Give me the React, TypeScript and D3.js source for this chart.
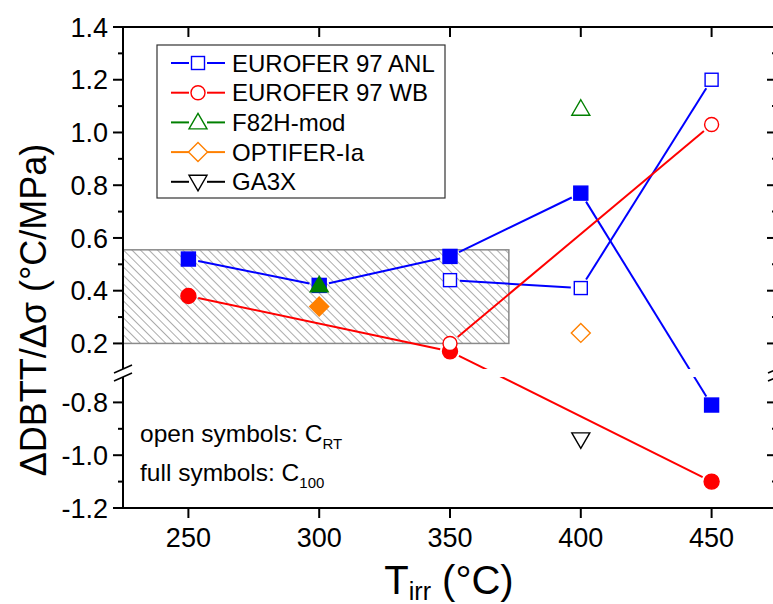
import React from "react";
import * as d3 from "d3";

// ---- data ----
const xTicks = [250, 300, 350, 400, 450];
const upperMajor = [0.2, 0.4, 0.6, 0.8, 1.0, 1.2, 1.4];
const upperMinor = [0.3, 0.5, 0.7, 0.9, 1.1, 1.3];
const lowerMajor = [-1.2, -1.0, -0.8];
const lowerMinor = [-1.1, -0.9];

const anlFull: [number, number][] = [[250, 0.52], [300, 0.42], [350, 0.53], [400, 0.77], [450, -0.81]];
const anlOpen: [number, number][] = [[350, 0.44], [400, 0.41], [450, 1.2]];
const wbFull: [number, number][] = [[250, 0.38], [350, 0.17], [450, -1.1]];
const wbOpen: [number, number][] = [[350, 0.2], [450, 1.03]];
const f82Full: [number, number][] = [[300, 0.42]];
const f82Open: [number, number][] = [[400, 1.09]];
const optFull: [number, number][] = [[300, 0.34]];
const optOpen: [number, number][] = [[400, 0.24]];
const ga3Open: [number, number][] = [[400, -0.94]];
const hatchBand = { x0: 225, x1: 372.5, y0: 0.2, y1: 0.555 };

const legendNames = ["EUROFER 97 ANL", "EUROFER 97 WB", "F82H-mod", "OPTIFER-Ia", "GA3X"];
const legendColors = ["#0000ff", "#ff0000", "#008000", "#ff8000", "#000000"];
const legendShapes = ["square", "circle", "triangle", "diamond", "down"];

const W = 773, H = 604;
const FONT = "'Liberation Sans', Arial, Helvetica, sans-serif";

const x = d3.scaleLinear().domain([225, 475]).range([123, 777]);
const yUp = d3.scaleLinear().domain([0.1, 1.4]).range([369.8, 27]);
const yLo = d3.scaleLinear().domain([-1.2, -0.7]).range([508, 376]);
const y = (v: number) => (v >= 0.1 ? yUp(v) : yLo(v));
const fmt = (v: number) => d3.format(".1f")(v).replace("\u2212", "-");

function Marker({ shape, cx, cy, color, filled }: { shape: string; cx: number; cy: number; color: string; filled: boolean }) {
  const fill = filled ? color : "#ffffff";
  const sw = 1.4;
  if (shape === "square") {
    const s = filled ? 14 : 13;
    return <rect x={cx - s / 2} y={cy - s / 2} width={s} height={s} fill={fill} stroke={color} strokeWidth={sw} />;
  }
  if (shape === "circle") {
    return <circle cx={cx} cy={cy} r={filled ? 7.5 : 7} fill={fill} stroke={color} strokeWidth={sw} />;
  }
  if (shape === "triangle") {
    const p = d3.path();
    p.moveTo(cx, cy - 9);
    p.lineTo(cx + 9, cy + 6.5);
    p.lineTo(cx - 9, cy + 6.5);
    p.closePath();
    return <path d={p.toString()} fill={fill} stroke={color} strokeWidth={sw} />;
  }
  if (shape === "down") {
    const p = d3.path();
    p.moveTo(cx, cy + 9);
    p.lineTo(cx + 9, cy - 6.5);
    p.lineTo(cx - 9, cy - 6.5);
    p.closePath();
    return <path d={p.toString()} fill={fill} stroke={color} strokeWidth={sw} />;
  }
  const p = d3.path();
  p.moveTo(cx, cy - 9.5);
  p.lineTo(cx + 9.5, cy);
  p.lineTo(cx, cy + 9.5);
  p.lineTo(cx - 9.5, cy);
  p.closePath();
  return <path d={p.toString()} fill={fill} stroke={color} strokeWidth={sw} />;
}

function Series({ data, color }: { data: [number, number][]; color: string }) {
  const g = 10;
  const segs = [];
  for (let i = 0; i < data.length - 1; i++) {
    const x1 = x(data[i][0]), y1 = y(data[i][1]);
    const x2 = x(data[i + 1][0]), y2 = y(data[i + 1][1]);
    const len = Math.hypot(x2 - x1, y2 - y1);
    const ux = (x2 - x1) / len, uy = (y2 - y1) / len;
    segs.push(
      <line key={i} x1={x1 + ux * g} y1={y1 + uy * g} x2={x2 - ux * g} y2={y2 - uy * g}
        stroke={color} strokeWidth={2} clipPath="url(#breakClip)" />
    );
  }
  return <g>{segs}</g>;
}

export default function App() {
  const axisColor = "#000";
  const hx0 = x(hatchBand.x0), hx1 = x(hatchBand.x1), hy0 = y(hatchBand.y1), hy1 = y(hatchBand.y0);
  const legendRows = legendNames.map((n, i) => ({ n, c: legendColors[i], s: legendShapes[i], yy: 63 + i * 29.7 }));
  const yTicksAll = [...upperMajor.map((v) => ({ v, major: true })), ...lowerMajor.map((v) => ({ v, major: true })),
    ...upperMinor.map((v) => ({ v, major: false })), ...lowerMinor.map((v) => ({ v, major: false }))];
  const L = x(225), R = x(475), T = 27, B = 508;
  const gapTop = 369, gapBot = 377;
  return (
    <svg width={W} height={H} style={{ position: "absolute", left: 0, top: 0, background: "#fff" }} fontFamily={FONT}>
      <defs>
        <pattern id="hatch" patternUnits="userSpaceOnUse" width={6} height={6} patternTransform="rotate(-45)">
          <line x1={0} y1={0} x2={0} y2={6} stroke="#666" strokeWidth={1.1} />
        </pattern>
        <clipPath id="breakClip">
          <rect x={0} y={0} width={W} height={gapTop} />
          <rect x={0} y={gapBot} width={W} height={H - gapBot} />
        </clipPath>
      </defs>
      <rect x={0} y={0} width={W} height={H} fill="#fff" />

      {/* hatched band */}
      <rect x={hx0} y={hy0} width={hx1 - hx0} height={hy1 - hy0} fill="url(#hatch)" stroke="#8a8a8a" strokeWidth={1.5} />

      {/* lines */}
      <Series data={anlFull} color="#0000ff" />
      <Series data={anlOpen} color="#0000ff" />
      <Series data={wbFull} color="#ff0000" />
      <Series data={wbOpen} color="#ff0000" />

      {/* markers */}
      {anlFull.map((d, i) => <Marker key={"af" + i} shape="square" cx={x(d[0])} cy={y(d[1])} color="#0000ff" filled />)}
      {anlOpen.map((d, i) => <Marker key={"ao" + i} shape="square" cx={x(d[0])} cy={y(d[1])} color="#0000ff" filled={false} />)}
      {wbFull.map((d, i) => <Marker key={"wf" + i} shape="circle" cx={x(d[0])} cy={y(d[1])} color="#ff0000" filled />)}
      {wbOpen.map((d, i) => <Marker key={"wo" + i} shape="circle" cx={x(d[0])} cy={y(d[1])} color="#ff0000" filled={false} />)}
      {f82Full.map((d, i) => <Marker key={"ff" + i} shape="triangle" cx={x(d[0])} cy={y(d[1])} color="#008000" filled />)}
      {f82Open.map((d, i) => <Marker key={"fo" + i} shape="triangle" cx={x(d[0])} cy={y(d[1])} color="#008000" filled={false} />)}
      {optFull.map((d, i) => <Marker key={"of" + i} shape="diamond" cx={x(d[0])} cy={y(d[1])} color="#ff8000" filled />)}
      {optOpen.map((d, i) => <Marker key={"oo" + i} shape="diamond" cx={x(d[0])} cy={y(d[1])} color="#ff8000" filled={false} />)}
      {ga3Open.map((d, i) => <Marker key={"go" + i} shape="down" cx={x(d[0])} cy={y(d[1])} color="#000000" filled={false} />)}

      {/* axes frame */}
      <line x1={L} y1={T} x2={R + 1} y2={T} stroke={axisColor} strokeWidth={2} />
      <line x1={L - 1} y1={B} x2={R + 1} y2={B} stroke={axisColor} strokeWidth={2} />
      <line x1={L} y1={T} x2={L} y2={gapTop} stroke={axisColor} strokeWidth={2} />
      <line x1={L} y1={gapBot} x2={L} y2={B} stroke={axisColor} strokeWidth={2} />
      <line x1={R} y1={T} x2={R} y2={gapTop} stroke={axisColor} strokeWidth={2} />
      <line x1={R} y1={gapBot} x2={R} y2={B} stroke={axisColor} strokeWidth={2} />
      {/* break marks */}
      {[L, R].map((ax, i) => (
        <g key={"brk" + i}>
          <line x1={ax - 9} y1={gapTop + 4} x2={ax + 9} y2={gapTop - 4} stroke={axisColor} strokeWidth={1.6} />
          <line x1={ax - 9} y1={gapBot + 4} x2={ax + 9} y2={gapBot - 4} stroke={axisColor} strokeWidth={1.6} />
        </g>
      ))}

      {/* y ticks */}
      {yTicksAll.map((t, i) => {
        const yy = y(t.v);
        const len = t.major ? 10 : 5;
        return (
          <g key={"yt" + i}>
            <line x1={L - len} y1={yy} x2={L} y2={yy} stroke={axisColor} strokeWidth={2} />
            <line x1={R - len} y1={yy} x2={R} y2={yy} stroke={axisColor} strokeWidth={2} />
            {t.major && (
              <text x={L - 15} y={yy} dy="0.36em" textAnchor="end" fontSize={27} fill="#000">{fmt(t.v)}</text>
            )}
          </g>
        );
      })}

      {/* x ticks */}
      {xTicks.map((t) => (
        <g key={"xt" + t}>
          <line x1={x(t)} y1={B} x2={x(t)} y2={B + 10} stroke={axisColor} strokeWidth={2} />
          <line x1={x(t)} y1={T} x2={x(t)} y2={T + 10} stroke={axisColor} strokeWidth={2} />
          <text x={x(t)} y={B + 39} textAnchor="middle" fontSize={27} fill="#000">{t}</text>
        </g>
      ))}

      {/* axis titles */}
      <text x={449} y={594} textAnchor="middle" fontSize={40} fill="#000">
        T<tspan fontSize={25} dy={6}>irr</tspan><tspan dy={-6}> (°C)</tspan>
      </text>
      <text transform="translate(46,310) rotate(-90)" textAnchor="middle" fontSize={36} fill="#000">ΔDBTT/Δσ (°C/MPa)</text>

      {/* annotation */}
      <text x={140} y={442} fontSize={24.5} fill="#000">
        open symbols: C<tspan fontSize={15} dy={7}>RT</tspan>
      </text>
      <text x={140} y={481} fontSize={24.5} fill="#000">
        full symbols: C<tspan fontSize={15} dy={7}>100</tspan>
      </text>

      {/* legend */}
      <rect x={157} y={45} width={288} height={153} fill="#fff" stroke="#333" strokeWidth={1.2} />
      {legendRows.map((r) => (
        <g key={r.n}>
          <line x1={171} y1={r.yy} x2={189} y2={r.yy} stroke={r.c} strokeWidth={2} />
          <line x1={207} y1={r.yy} x2={225} y2={r.yy} stroke={r.c} strokeWidth={2} />
          <Marker shape={r.s} cx={198} cy={r.yy} color={r.c} filled={false} />
          <text x={232} y={r.yy} dy="0.36em" fontSize={24} fill="#000">{r.n}</text>
        </g>
      ))}
    </svg>
  );
}
